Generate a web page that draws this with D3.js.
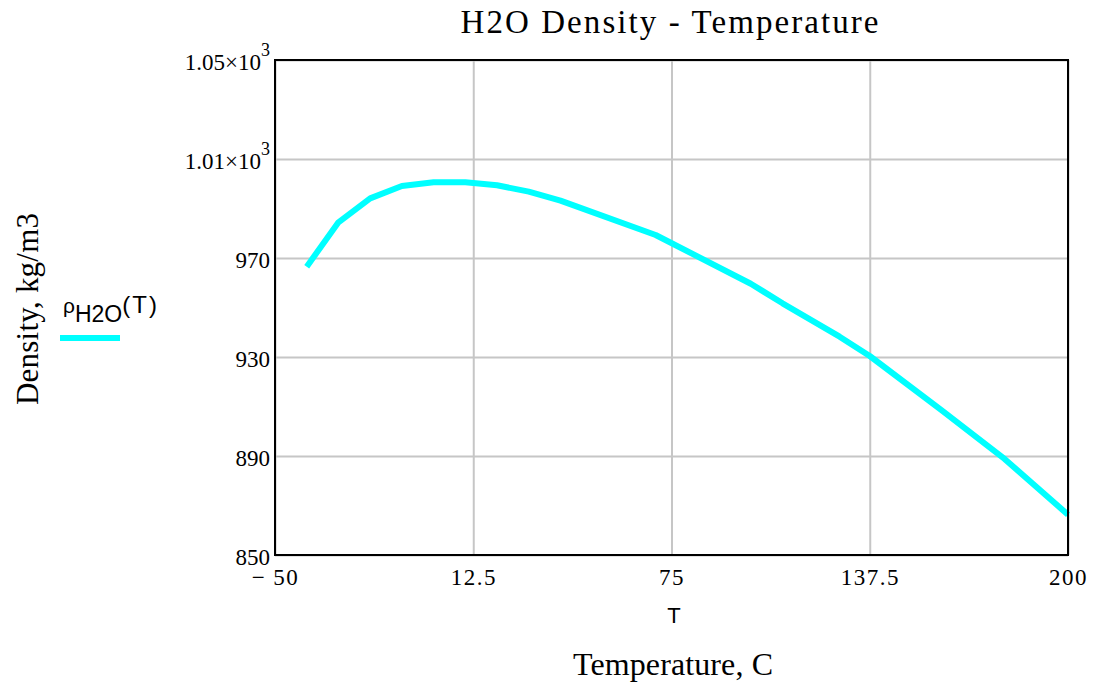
<!DOCTYPE html>
<html>
<head>
<meta charset="utf-8">
<script src="https://cdn.jsdelivr.net/npm/d3@7"></script>
<style>
  body { margin: 0; background: #fff; }
  svg { display: block; }
  .serif { font-family: "Liberation Serif", "Times New Roman", serif; fill: #000; }
  .sans { font-family: "Liberation Sans", Arial, sans-serif; fill: #000; }
</style>
</head>
<body>
<div id="chart"></div>
<script>
// Temperature (C) and water density (kg/m3)
const temperature = [-40, -30, -20, -10, 0, 10, 20, 30, 40, 70, 100, 110, 128, 137.5, 160, 180, 200];
const density = [966.5, 984.4, 994.1, 999.1, 1000.6, 1000.6, 999.4, 996.8, 993.2, 979.3, 959.6, 951.7, 938.2, 930.4, 908.6, 888.8, 866.3];

const xTicks = [-50, 12.5, 75, 137.5, 200];
const xTickLabels = ["\u2212 50", "12.5", "75", "137.5", "200"];
const yTicks = [850, 890, 930, 970, 1010, 1050];
const yTickLabels = ["850", "890", "930", "970", "1.01\u00d710|3", "1.05\u00d710|3"];

const config = {
    width: 1100,
    height: 686,
    margin: { top: 60, left: 275, right: 32, bottom: 131 },
};
const innerW = config.width - config.margin.left - config.margin.right;
const innerH = config.height - config.margin.top - config.margin.bottom;

const svg = d3.select("#chart")
    .append("svg")
    .attr("width", config.width)
    .attr("height", config.height);

const g = svg.append("g")
    .attr("transform", `translate(${config.margin.left},${config.margin.top})`);

// Scales
const x = d3.scaleLinear().domain([-50, 200]).range([0, innerW]);
const y = d3.scaleLinear().domain([850, 1050]).range([innerH, 0]);

// Gridlines
g.append("g")
    .attr("transform", `translate(0,${innerH})`)
    .call(d3.axisBottom(x).tickValues(xTicks).tickSize(-innerH).tickFormat(""))
    .call(s => s.select(".domain").remove())
    .selectAll("line")
    .attr("stroke", "#c6c6c6")
    .attr("stroke-width", 2);

g.append("g")
    .call(d3.axisLeft(y).tickValues(yTicks).tickSize(-innerW).tickFormat(""))
    .call(s => s.select(".domain").remove())
    .selectAll("line")
    .attr("stroke", "#c6c6c6")
    .attr("stroke-width", 2);

// Data line
const line = d3.line()
    .x((d, i) => x(temperature[i]))
    .y(d => y(d));

g.append("path")
    .datum(density)
    .attr("fill", "none")
    .attr("stroke", "#00ffff")
    .attr("stroke-width", 6)
    .attr("stroke-linejoin", "round")
    .attr("d", line);

// Frame
g.append("rect")
    .attr("width", innerW)
    .attr("height", innerH)
    .attr("fill", "none")
    .attr("stroke", "#000")
    .attr("stroke-width", 2);

// X tick labels
const xAxis = g.append("g")
    .attr("transform", `translate(0,${innerH})`)
    .call(d3.axisBottom(x).tickValues(xTicks).tickSize(0)
        .tickFormat((d, i) => xTickLabels[i]));
xAxis.select(".domain").remove();
xAxis.selectAll("text")
    .attr("class", "serif")
    .attr("y", 30)
    .attr("dy", 0)
    .style("font-size", "23px")
    .style("letter-spacing", "1.5px");

// Y tick labels (with superscript exponent)
const yAxis = g.append("g")
    .call(d3.axisLeft(y).tickValues(yTicks).tickSize(0).tickFormat(""));
yAxis.select(".domain").remove();
yAxis.selectAll("text")
    .attr("class", "serif")
    .attr("x", -5)
    .attr("dy", 9)
    .style("font-size", "23px")
    .each(function (d, i) {
        const parts = yTickLabels[i].split("|");
        const t = d3.select(this);
        t.text(null);
        t.append("tspan").text(parts[0]);
        if (parts[1]) {
            t.append("tspan")
                .attr("dy", -14)
                .style("font-size", "18px")
                .text(parts[1]);
        }
    });

// Title
svg.append("text")
    .attr("class", "serif")
    .attr("x", config.margin.left + innerW / 2 - 2)
    .attr("y", 33)
    .attr("text-anchor", "middle")
    .attr("textLength", 418)
    .attr("lengthAdjust", "spacing")
    .style("font-size", "33px")
    .text("H2O Density - Temperature");

// X axis variable + label
svg.append("text")
    .attr("class", "sans")
    .attr("x", 674)
    .attr("y", 623)
    .attr("text-anchor", "middle")
    .style("font-size", "22px")
    .text("T");

svg.append("text")
    .attr("class", "serif")
    .attr("x", 673)
    .attr("y", 675)
    .attr("text-anchor", "middle")
    .attr("textLength", 200)
    .attr("lengthAdjust", "spacing")
    .style("font-size", "32px")
    .text("Temperature, C");

// Y axis label
svg.append("text")
    .attr("class", "serif")
    .attr("transform", "translate(38,309) rotate(-90)")
    .attr("text-anchor", "middle")
    .attr("textLength", 192)
    .attr("lengthAdjust", "spacing")
    .style("font-size", "31px")
    .text("Density, kg/m3");

// Legend
const legend = svg.append("text")
    .attr("class", "sans")
    .attr("x", 63)
    .attr("y", 313);
legend.append("tspan").style("font-size", "21px").text("\u03c1");
legend.append("tspan").attr("dy", 9).style("font-size", "23px").text("H2O");
legend.append("tspan").attr("dy", -9).style("font-size", "24px")
    .style("letter-spacing", "2px").text("(T)");

svg.append("line")
    .attr("x1", 60)
    .attr("x2", 120)
    .attr("y1", 338)
    .attr("y2", 338)
    .attr("stroke", "#00ffff")
    .attr("stroke-width", 6);
</script>
</body>
</html>
